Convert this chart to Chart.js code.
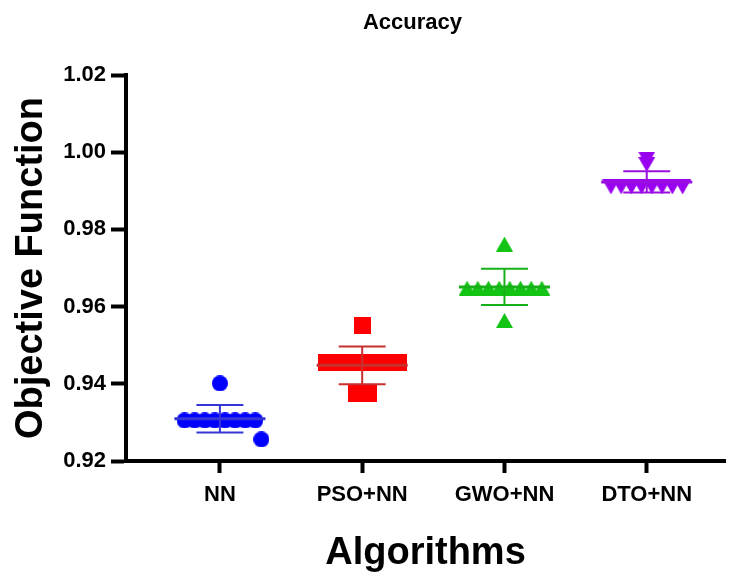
<!DOCTYPE html>
<html>
<head>
<meta charset="utf-8">
<script src="https://cdn.jsdelivr.net/npm/chart.js@4/dist/chart.umd.min.js"></script>
<style>
  html, body { margin: 0; padding: 0; background: #fff; }
  #wrap { width: 735px; height: 578px; }
</style>
</head>
<body>
<div id="wrap"><canvas id="myChart" width="735" height="578"></canvas></div>
<script>
//values, ten runs per algorithm
var groups = ['NN', 'PSO+NN', 'GWO+NN', 'DTO+NN'];
var nnRuns  = [0.9401, 0.9305, 0.9305, 0.9305, 0.9305, 0.9305, 0.9305, 0.9305, 0.9305, 0.9256];
var psoRuns = [0.9550, 0.9454, 0.9454, 0.9454, 0.9454, 0.9454, 0.9454, 0.9454, 0.9375, 0.9375];
var gwoRuns = [0.9762, 0.9648, 0.9648, 0.9648, 0.9648, 0.9648, 0.9648, 0.9648, 0.9648, 0.9564];
var dtoRuns = [0.9982, 0.9968, 0.9910, 0.9910, 0.9910, 0.9910, 0.9910, 0.9910, 0.9910, 0.9910];
var yTicks = [0.92, 0.94, 0.96, 0.98, 1.00, 1.02];

var allRuns = [nnRuns, psoRuns, gwoRuns, dtoRuns];
var colors  = ['#0000ff', '#ff0000', '#14c414', '#9a00f0'];
var barColors = ['#3636d6', '#c83030', '#18b018', '#9a10e0'];
var shapes  = ['circle', 'square', 'triangle', 'invtriangle'];
var spread  = [0.071, 0.084, 0.075, 0.072]; // gap between tied points, in category units

function marker(shape, color) {
    var c = document.createElement('canvas');
    var w = 17, h = 17;
    if (shape == 'circle') { w = 16; h = 16; }
    if (shape == 'triangle' || shape == 'invtriangle') { w = 17; h = 15; }
    c.width = w; c.height = h;
    var g = c.getContext('2d');
    g.fillStyle = color;
    g.beginPath();
    if (shape == 'circle') g.arc(w / 2, h / 2, w / 2, 0, Math.PI * 2);
    else if (shape == 'square') g.rect(0, 0, w, h);
    else if (shape == 'triangle') { g.moveTo(w / 2, 0); g.lineTo(w, h); g.lineTo(0, h); }
    else { g.moveTo(0, 0); g.lineTo(w, 0); g.lineTo(w / 2, h); }
    g.closePath();
    g.fill();
    return c;
}

//spread tied values sideways, nudge a lone point past a row it would touch
function placePoints(runs, idx) {
    var counts = {};
    runs.forEach(function (v) { counts[v] = (counts[v] || 0) + 1; });
    var seen = {}, pts = [];
    runs.forEach(function (v) {
        var n = counts[v];
        var k = seen[v] || 0;
        seen[v] = k + 1;
        var x = idx + (k - (n - 1) / 2) * spread[idx];
        if (n == 1) {
            for (var other in counts) {
                var m = counts[other];
                if (m > 2 && Math.abs(other - v) < 0.0052) {
                    x = idx + ((m - 1) / 2) * spread[idx] + spread[idx] * 0.6;
                }
            }
        }
        pts.push({x: x, y: v});
    });
    return pts;
}

function meanSd(runs) {
    var m = runs.reduce(function (a, b) { return a + b; }, 0) / runs.length;
    var ss = runs.reduce(function (a, b) { return a + (b - m) * (b - m); }, 0);
    return {mean: m, sd: Math.sqrt(ss / (runs.length - 1))};
}

var datasets = [];
allRuns.forEach(function (runs, i) {
    var s = meanSd(runs);
    var hw = 0.32, cw = 0.165;
    datasets.push({
        type: 'line', order: 0, data: [{x: i - hw, y: s.mean}, {x: i + hw, y: s.mean}],
        borderColor: barColors[i], borderWidth: 3, pointRadius: 0, fill: false, clip: false
    });
    datasets.push({
        type: 'line', order: 0, spanGaps: false,
        data: [{x: i - cw, y: s.mean + s.sd}, {x: i + cw, y: s.mean + s.sd}, {x: i, y: null},
               {x: i, y: s.mean + s.sd}, {x: i, y: s.mean - s.sd}, {x: i, y: null},
               {x: i - cw, y: s.mean - s.sd}, {x: i + cw, y: s.mean - s.sd}],
        borderColor: barColors[i], borderWidth: 2, pointRadius: 0, fill: false, clip: false
    });
    datasets.push({
        type: 'scatter', order: 1, data: placePoints(runs, i),
        pointStyle: marker(shapes[i], colors[i]), pointRadius: 8, clip: false
    });
});

var chartTitle = {
    id: 'chartTitle',
    afterDraw: function (chart) {
        var ctx = chart.ctx, a = chart.chartArea;
        ctx.save();
        ctx.fillStyle = '#000';
        ctx.font = 'bold 22px "Liberation Sans", Arial, sans-serif';
        ctx.textAlign = 'center';
        ctx.textBaseline = 'middle';
        ctx.fillText('Accuracy', (a.left + a.right) / 2 - 13, 23);
        ctx.restore();
    }
};

Chart.defaults.font.family = '"Liberation Sans", Arial, sans-serif';
Chart.defaults.color = '#000';

const GRAPH = document.getElementById('myChart');
const dotPlot = new Chart(GRAPH, {
    type: 'scatter',
    data: {datasets: datasets},
    options: {
        responsive: false,
        animation: false,
        events: [],
        layout: {padding: {top: 75, right: 10, left: 0, bottom: 0}},
        plugins: {legend: {display: false}, tooltip: {enabled: false}, title: {display: false}},
        scales: {
            x: {
                type: 'linear', min: -0.66, max: 3.55,
                afterBuildTicks: function (scale) {
                    scale.ticks = groups.map(function (g, i) { return {value: i}; });
                },
                afterFit: function (scale) { scale.height = 117; },
                ticks: {
                    autoSkip: false, maxRotation: 0, padding: 9,
                    font: {size: 22, weight: 'bold'},
                    callback: function (v) { return groups[v]; }
                },
                grid: {drawOnChartArea: false, tickLength: 12, tickWidth: 4, tickColor: '#000'},
                border: {width: 4, color: '#000'},
                title: {display: true, text: 'Algorithms', font: {size: 38, weight: 'bold'},
                        padding: {top: 0, bottom: 2}}
            },
            y: {
                min: 0.92, max: 1.02,
                afterBuildTicks: function (scale) {
                    scale.ticks = yTicks.map(function (v) { return {value: v}; });
                },
                afterFit: function (scale) { scale.width = 126; },
                ticks: {
                    padding: 5, font: {size: 22, weight: 'bold'},
                    callback: function (v) { return v.toFixed(2); }
                },
                grid: {drawOnChartArea: false, tickLength: 15, tickWidth: 4, tickColor: '#000'},
                border: {width: 4, color: '#000'},
                title: {display: true, text: 'Objective Function', font: {size: 38, weight: 'bold'},
                        padding: {top: 9, bottom: 0}}
            }
        }
    },
    plugins: [chartTitle]
});
</script>
</body>
</html>
